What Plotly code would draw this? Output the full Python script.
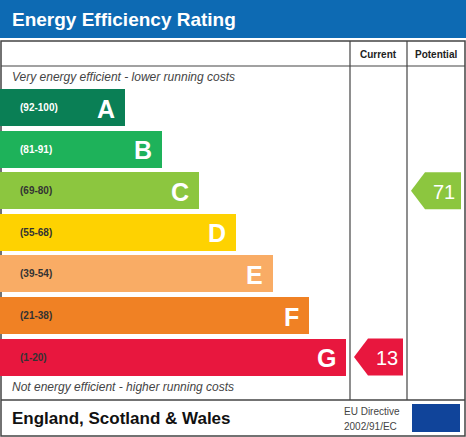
import plotly.graph_objects as go
import numpy as np

bands = ["A", "B", "C", "D", "E", "F", "G"]
ranges = ["(92-100)", "(81-91)", "(69-80)", "(55-68)", "(39-54)", "(21-38)", "(1-20)"]
colors = ["#0a7f55", "#1eb25a", "#8cc63f", "#fed201", "#f9ac65", "#f08124", "#e8173e"]
range_font = ["white", "white", "#333", "#333", "#333", "#333", "#333"]
band_len = [125, 162, 199, 236, 273, 309, 346]
current = 13
potential = 71
bounds = [92, 81, 69, 55, 39, 21, 1]

W, H = 466, 437
top0, step, bh = 89, 41.6, 37

def band_of(v):
    for i, b in enumerate(bounds):
        if v >= b:
            return i
    return 6

fig = go.Figure()
ys = [top0 + i * step + bh / 2 for i in range(7)]
fig.add_trace(go.Bar(y=ys, x=band_len, base=0, orientation="h", width=bh,
                     marker=dict(color=colors, line=dict(width=0)), hoverinfo="skip"))
shapes = []
ann = []
shapes.append(dict(type="rect", x0=0, x1=W, y0=0, y1=38, fillcolor="#0d6ab3", line_width=0, layer="below"))
shapes.append(dict(type="rect", x0=1, x1=W - 1, y0=41, y1=H - 1, line=dict(color="#444", width=1.5), layer="below"))
for x in (350, 407):
    shapes.append(dict(type="line", x0=x, x1=x, y0=41, y1=400, line=dict(color="#444", width=1.2)))
shapes.append(dict(type="line", x0=1, x1=W - 1, y0=66, y1=66, line=dict(color="#444", width=1.2)))
shapes.append(dict(type="line", x0=1, x1=W - 1, y0=400, y1=400, line=dict(color="#444", width=1.5)))
shapes.append(dict(type="rect", x0=412, x1=460, y0=404, y1=432, fillcolor="#10449a", line_width=0))

ann.append(dict(x=10, y=19, text="<b>Energy Efficiency Rating</b>", font=dict(size=19, color="white", family="Liberation Sans"), xanchor="left"))
ann.append(dict(x=378, y=54, text="<b>Current</b>", font=dict(size=10, color="#222")))
ann.append(dict(x=436, y=54, text="<b>Potential</b>", font=dict(size=10, color="#222")))
ann.append(dict(x=10, y=77, text="<i>Very energy efficient - lower running costs</i>", font=dict(size=12, color="#444"), xanchor="left"))
ann.append(dict(x=10, y=387, text="<i>Not energy efficient - higher running costs</i>", font=dict(size=12, color="#444"), xanchor="left"))
ann.append(dict(x=10, y=418, text="<b>England, Scotland & Wales</b>", font=dict(size=17, color="#111"), xanchor="left"))
ann.append(dict(x=342, y=411, text="EU Directive", font=dict(size=10, color="#444"), xanchor="left"))
ann.append(dict(x=342, y=426, text="2002/91/EC", font=dict(size=10, color="#444"), xanchor="left"))
for i in range(7):
    ann.append(dict(x=18, y=ys[i], text="<b>" + ranges[i] + "</b>", font=dict(size=10, color=range_font[i]), xanchor="left"))
    ann.append(dict(x=band_len[i] - 8, y=ys[i] + 1, text="<b>" + bands[i] + "</b>", xanchor="right",
                    font=dict(size=25, color="white", family="Liberation Sans")))

for val, x0, x1 in ((current, 354, 403), (potential, 411, 461)):
    i = band_of(val)
    t, b = top0 + i * step, top0 + i * step + bh
    fig.add_trace(go.Scatter(x=[x0, x0 + 14, x1, x1, x0 + 14, x0], y=[ys[i], t, t, b, b, ys[i]],
                             fill="toself", fillcolor=colors[i], line=dict(width=0), mode="lines", hoverinfo="skip"))
    ann.append(dict(x=(x0 + 14 + x1) / 2 + 1, y=ys[i] + 1, text=str(val), font=dict(size=20, color="white")))

ang = np.linspace(0, 2 * np.pi, 13)[:-1]
fig.add_trace(go.Scatter(x=436 + 9 * np.cos(ang), y=418 + 9 * np.sin(ang), mode="markers",
                         marker=dict(symbol="star", size=4, color="#ffdd00"), hoverinfo="skip"))

for a in ann:
    a.update(xref="x", yref="y", showarrow=False)
fig.update_layout(width=W, height=H, margin=dict(l=0, r=0, t=0, b=0), showlegend=False,
                  plot_bgcolor="white", paper_bgcolor="white", shapes=shapes, annotations=ann,
                  font=dict(family="Liberation Sans"), bargap=0,
                  xaxis=dict(range=[0, W], visible=False, fixedrange=True),
                  yaxis=dict(range=[H, 0], visible=False, fixedrange=True))
fig.write_html("out.html", config=dict(displayModeBar=False),
               post_script="document.body.style.margin='0';document.body.style.overflow='hidden';")
